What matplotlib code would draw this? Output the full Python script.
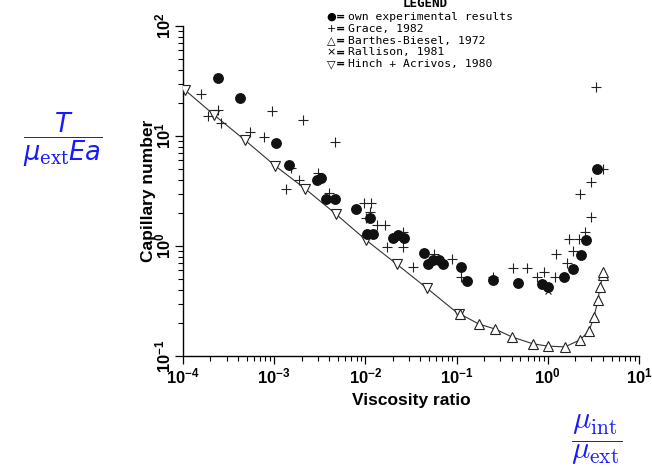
import matplotlib
matplotlib.use("Agg")
import matplotlib.pyplot as plt
from matplotlib.ticker import LogLocator, FuncFormatter, NullFormatter
import numpy as np

plt.rcParams['mathtext.fontset'] = 'custom'
plt.rcParams['mathtext.it'] = 'DejaVu Sans:italic'
plt.rcParams['mathtext.rm'] = 'DejaVu Serif'
plt.rcParams['mathtext.bf'] = 'Liberation Sans:bold'

# ---- data ----
own_x = [2.42e-4, 4.22e-4, 1.05e-3, 1.45e-3, 2.94e-3, 3.26e-3, 3.70e-3, 4.65e-3,
         7.88e-3, 1.12e-2, 1.04e-2, 1.21e-2, 2.01e-2, 2.28e-2, 2.65e-2, 4.40e-2,
         4.85e-2, 5.51e-2, 6.41e-2, 7.10e-2, 0.112, 0.130, 0.251, 0.471, 0.863,
         1.00, 1.51, 1.89, 2.31, 2.62, 3.46]
own_y = [33.7, 22.1, 8.63, 5.45, 3.98, 4.15, 2.67, 2.67,
         2.17, 1.80, 1.29, 1.29, 1.18, 1.26, 1.18, 0.863,
         0.686, 0.746, 0.746, 0.686, 0.644, 0.481, 0.491, 0.461, 0.452,
         0.424, 0.523, 0.618, 0.828, 1.13, 5.01]

grace_x = [1.57e-4, 1.88e-4, 2.42e-4, 2.61e-4, 5.43e-4, 7.73e-4, 9.46e-4, 2.07e-3,
           4.65e-3, 1.53e-3, 1.87e-3, 1.35e-3, 3.02e-3, 3.99e-3, 9.66e-3, 1.15e-2,
           1.12e-2, 1.02e-2, 1.34e-2, 1.64e-2, 1.73e-2, 2.58e-2, 2.58e-2, 3.33e-2,
           5.65e-2, 8.91e-2, 0.112, 0.251, 0.415, 0.592, 0.762, 0.908, 1.20, 1.23,
           1.62, 1.71, 1.89, 2.20, 2.56, 2.98, 2.25, 2.98, 4.03, 3.38]
grace_y = [24.1, 15.2, 17.2, 13.1, 10.9, 9.79, 16.9, 14.0,
           8.82, 5.12, 3.98, 3.30, 4.61, 3.03, 2.46, 2.46,
           2.04, 1.80, 1.55, 1.55, 0.979, 1.34, 0.979, 0.644,
           0.846, 0.762, 0.523, 0.523, 0.631, 0.631, 0.523, 0.581, 0.523, 0.846,
           0.700, 1.16, 0.901, 1.16, 1.34, 1.84, 2.97, 3.82, 5.01, 27.9]

barthes_x = [0.109, 0.176, 0.264, 0.404, 0.689, 1.00, 1.545, 2.25, 2.83, 3.21,
             3.55, 3.73, 4.03, 4.03]
barthes_y = [0.241, 0.195, 0.176, 0.149, 0.129, 0.123, 0.121, 0.140, 0.169, 0.226,
             0.323, 0.424, 0.545, 0.581]

rallison_x = [1.0]
rallison_y = [0.39]

hinch_x = [1.05e-4, 2.2e-4, 4.75e-4, 1.03e-3, 2.2e-3, 4.75e-3, 1.02e-2, 2.2e-2,
           4.7e-2, 0.105]
hinch_y = [26.2, 15.5, 9.2, 5.34, 3.3, 1.95, 1.13, 0.685, 0.415, 0.241]

legend_markers = ['\u25CF', '+', '\u25B3', '\u00D7', '\u25BD']
legend_labels = ['own experimental results', 'Grace, 1982', 'Barthes-Biesel, 1972',
                 'Rallison, 1981', 'Hinch + Acrivos, 1980']

W, H = 652, 474
fig = plt.figure(figsize=(W / 100, H / 100), dpi=100)
ax = fig.add_axes([183 / W, 1 - 356 / H, (639 - 183) / W, (356 - 26) / H])

# theoretical curve through Hinch-Acrivos and Barthes-Biesel points
cx = np.array(hinch_x + barthes_x)
cy = np.array(hinch_y + barthes_y)
order = np.argsort(cx, kind='stable')
ax.plot(cx[order], cy[order], '-', color='#333333', lw=0.8, zorder=2)

ax.plot(hinch_x, hinch_y, 'v', ms=6.5, mfc='white', mec='#222222', mew=0.8, ls='none', zorder=3)
ax.plot(barthes_x, barthes_y, '^', ms=6.5, mfc='white', mec='#222222', mew=0.8, ls='none', zorder=3)
ax.plot(grace_x, grace_y, '+', ms=7.5, mec='#222222', mew=0.8, ls='none', zorder=3)
ax.plot(rallison_x, rallison_y, 'x', ms=5, mec='#222222', mew=0.8, ls='none', zorder=3)
ax.plot(own_x, own_y, 'o', ms=6.8, mfc='#111111', mec='#111111', ls='none', zorder=4)

ax.set_xscale('log')
ax.set_yscale('log')
ax.set_xlim(1e-4, 1e1)
ax.set_ylim(1e-1, 1e2)

for s in ['top', 'right']:
    ax.spines[s].set_visible(False)
for s in ['left', 'bottom']:
    ax.spines[s].set_linewidth(1.0)

fmt = FuncFormatter(lambda v, p: r'$\mathbf{10^{%d}}$' % int(round(np.log10(v))))
for axis in (ax.xaxis, ax.yaxis):
    axis.set_major_locator(LogLocator(base=10, numticks=10))
    axis.set_minor_locator(LogLocator(base=10, subs=np.arange(2, 10), numticks=10))
    axis.set_major_formatter(fmt)
    axis.set_minor_formatter(NullFormatter())
ax.tick_params(which='major', direction='out', length=6, width=0.9, labelsize=12, pad=2)
ax.tick_params(axis='y', which='major', pad=0)
ax.tick_params(which='minor', direction='out', length=3.5, width=0.8)
for lbl in ax.get_yticklabels():
    lbl.set_rotation(90)
    lbl.set_va('center')

ax.set_xlabel('Viscosity ratio', fontsize=12.5, fontweight='bold', family='Liberation Sans', labelpad=4)
ax.set_ylabel('Capillary number', fontsize=12.5, fontweight='bold', family='Liberation Sans', labelpad=-1)

# legend drawn as text in the upper part
fig.text(425 / W, 1 - 7 / H, 'LEGEND', ha='center', va='baseline', fontsize=9,
         family='DejaVu Sans Mono', fontweight='bold')
rows = [17, 29, 41, 52.5, 64]
for m, lab, ry in zip(legend_markers, legend_labels, rows):
    fig.text(331 / W, 1 - ry / H, m, ha='center', va='center', fontsize=8,
             family='DejaVu Sans')
    fig.text(340.5 / W, 1 - ry / H, '=', ha='center', va='center', fontsize=8,
             family='DejaVu Sans', fontweight='bold')
    fig.text(348 / W, 1 - ry / H, lab, ha='left', va='center', fontsize=8.2,
             family='DejaVu Sans Mono')

# blue annotations
fig.text(63 / W, 1 - 140 / H, r'$\dfrac{T}{\mu_{\mathrm{ext}}Ea}$', ha='center', va='center',
         fontsize=18.5, color='#1a1aff', math_fontfamily='custom')
fig.text(597 / W, 1 - 440 / H, r'$\dfrac{\mu_{\mathrm{int}}}{\mu_{\mathrm{ext}}}$', ha='center',
         va='center', fontsize=22, color='#1a1aff', math_fontfamily='cm')

fig.savefig('out.png', dpi=100)
